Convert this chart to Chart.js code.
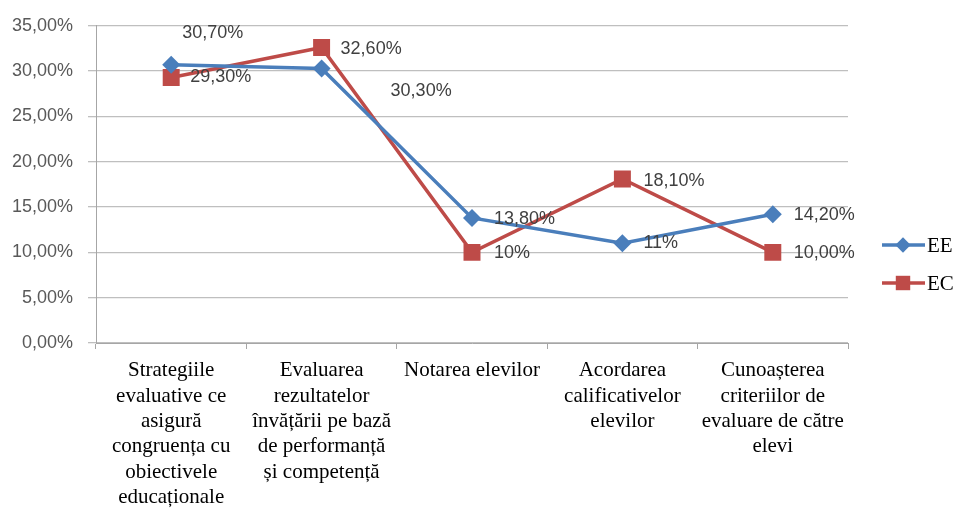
<!DOCTYPE html>
<html>
<head>
<meta charset="utf-8">
<script src="https://cdn.jsdelivr.net/npm/chart.js@4"></script>
<style>
  html, body { margin: 0; padding: 0; background: #fff; }
  #wrap { width: 957px; height: 512px; }
</style>
</head>
<body>
<div id="wrap"><canvas id="myChart" width="957" height="512"></canvas></div>
<script>
// categories (multi-line labels as in the original)
const categories = [
    ['Strategiile', 'evaluative ce', 'asigură', 'congruența cu', 'obiectivele', 'educaționale'],
    ['Evaluarea', 'rezultatelor', 'învățării pe bază', 'de performanță', 'și competență'],
    'Notarea elevilor',
    ['Acordarea', 'calificativelor', 'elevilor'],
    ['Cunoașterea', 'criteriilor de', 'evaluare de către', 'elevi']
];
const seriesNames = ['EE', 'EC'];
const eeValues = [30.7, 30.3, 13.8, 11, 14.2];
const ecValues = [29.3, 32.6, 10, 18.1, 10];
const eeLabels = ['30,70%', '30,30%', '13,80%', '11%', '14,20%'];
const ecLabels = ['29,30%', '32,60%', '10%', '18,10%', '10,00%'];
const yMax = 35;
const yStep = 5;

// label placement (pixels, relative to point) - style only
const eeShift = [[11, -32], [69, 23], [22, 1], [21, 0], [21, 1]];
const ecShift = [[19, 0], [19, 1], [22, 1], [21, 2], [21, 1]];

const blue = '#4A7EBB';
const red = '#BE4B48';

const valueLabels = {
    id: 'valueLabels',
    afterDatasetsDraw(chart) {
        const ctx = chart.ctx;
        ctx.save();
        ctx.font = '18px "Liberation Sans", Arial, sans-serif';
        ctx.fillStyle = '#404040';
        ctx.textAlign = 'left';
        ctx.textBaseline = 'middle';
        chart.data.datasets.forEach((ds, i) => {
            const meta = chart.getDatasetMeta(i);
            meta.data.forEach((pt, j) => {
                const s = ds.shift[j];
                ctx.fillText(ds.texts[j], pt.x + s[0], pt.y + s[1]);
            });
        });
        ctx.restore();
    }
};

const sideLegend = {
    id: 'sideLegend',
    afterDraw(chart) {
        const ctx = chart.ctx;
        const x0 = chart.chartArea.right + 34;
        const rows = [245, 283];
        ctx.save();
        chart.data.datasets.forEach((ds, i) => {
            const y = rows[i];
            ctx.strokeStyle = ds.borderColor;
            ctx.lineWidth = 3.5;
            ctx.beginPath();
            ctx.moveTo(x0, y);
            ctx.lineTo(x0 + 43, y);
            ctx.stroke();
            ctx.fillStyle = ds.backgroundColor;
            Chart.helpers.drawPoint(ctx, {
                pointStyle: ds.pointStyle,
                radius: ds.pointRadius * 0.85,
                borderWidth: 0
            }, x0 + 21, y);
            ctx.fillStyle = '#000';
            ctx.font = '21px "Liberation Serif", "Times New Roman", serif';
            ctx.textBaseline = 'middle';
            ctx.textAlign = 'left';
            ctx.fillText(ds.label, x0 + 45, y + 1);
        });
        ctx.restore();
    }
};

const config = {
    type: 'line',
    data: {
        labels: categories,
        datasets: [{
            label: seriesNames[0],
            data: eeValues,
            texts: eeLabels,
            shift: eeShift,
            borderColor: blue,
            backgroundColor: blue,
            borderWidth: 3.5,
            pointStyle: 'rectRot',
            pointRadius: 9,
            pointHoverRadius: 9,
            pointBorderWidth: 0,
            tension: 0
        }, {
            label: seriesNames[1],
            data: ecValues,
            texts: ecLabels,
            shift: ecShift,
            borderColor: red,
            backgroundColor: red,
            borderWidth: 3.5,
            pointStyle: 'rect',
            pointRadius: 12,
            pointHoverRadius: 12,
            pointBorderWidth: 0,
            tension: 0
        }]
    },
    options: {
        responsive: false,
        animation: false,
        layout: { padding: { left: 0, right: 109, top: 24, bottom: 0 } },
        plugins: {
            legend: { display: false },
            tooltip: { enabled: false }
        },
        scales: {
            x: {
                offset: true,
                grid: {
                    offset: true,
                    drawOnChartArea: false,
                    drawTicks: true,
                    tickLength: 6,
                    color: '#A6A6A6'
                },
                border: { color: '#A6A6A6', width: 1 },
                ticks: {
                    maxRotation: 0,
                    autoSkip: false,
                    padding: 9,
                    color: '#000',
                    font: { family: '"Liberation Serif", "Times New Roman", serif', size: 21, lineHeight: 1.21 }
                },
                afterFit(scale) { scale.height = 169; }
            },
            y: {
                min: 0,
                max: yMax,
                grid: {
                    color: '#BFBFBF',
                    lineWidth: 1.3,
                    drawTicks: true,
                    tickLength: 8
                },
                border: { color: '#A6A6A6', width: 1 },
                ticks: {
                    stepSize: yStep,
                    padding: 15,
                    color: '#595959',
                    font: { family: '"Liberation Sans", Arial, sans-serif', size: 18 },
                    callback: v => v.toFixed(2).replace('.', ',') + '%'
                },
                afterFit(scale) { scale.width = 96; }
            }
        }
    },
    plugins: [valueLabels, sideLegend]
};

const myChart = new Chart(document.getElementById('myChart'), config);
</script>
</body>
</html>
